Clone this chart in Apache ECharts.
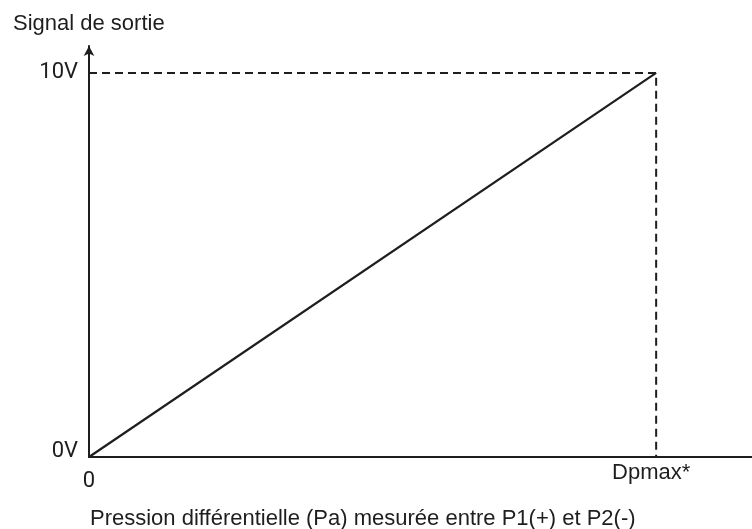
<!DOCTYPE html>
<html>
<head>
<meta charset="utf-8">
<script src="https://cdn.jsdelivr.net/npm/echarts@6/dist/echarts.min.js"></script>
<style>html,body{margin:0;padding:0;background:#fff}#c{width:752px;height:529px}</style>
</head>
<body>
<div id="c"></div>
<script>
// ---- data ----
const yAxisTitle = 'Signal de sortie';
const xAxisTitle = 'Pression différentielle (Pa) mesurée entre P1(+) et P2(-)';
const signalLine = [[0, 0], [1, 10]];          // linear output: 0V at 0, 10V at Dpmax
const guideLine = [[0, 10], [1, 10], [1, 0]];   // dashed reference lines
const yTickLabels = { 0: '0V', 10: '10V' };
const xTickLabels = { 0: '0', 1: 'Dpmax*' };
const xMax = 1.169;
const yMax = 10.7;

const ink = '#1e1e1e';
const chart = echarts.init(document.getElementById('c'), null, { renderer: 'canvas' });
chart.setOption({
  animation: false,
  title: [
    { text: yAxisTitle, left: 8, top: 8,
      textStyle: { fontFamily: 'Liberation Sans', fontSize: 22, fontWeight: 'normal', color: ink } },
    { text: xAxisTitle, left: 85, top: 503,
      textStyle: { fontFamily: 'Liberation Sans', fontSize: 22, fontWeight: 'normal', color: ink } }
  ],
  grid: { left: 89, right: 0, top: 46, bottom: 72 },
  xAxis: {
    type: 'value', min: 0, max: xMax, interval: 1,
    axisLine: { lineStyle: { color: ink, width: 2 } },
    axisTick: { show: false },
    splitLine: { show: false },
    axisLabel: {
      margin: 13, showMaxLabel: false,
      formatter: v => v === 0 ? '{a|' + xTickLabels[0] + '}' : (v === 1 ? '{b|' + xTickLabels[1] + '}' : ''),
      rich: {
        a: { fontFamily: 'Roboto', fontSize: 22, color: ink },
        b: { fontFamily: 'Liberation Sans', fontSize: 22, color: ink, padding: [-8, 10, 0, 0] }
      }
    }
  },
  yAxis: {
    type: 'value', min: 0, max: yMax, interval: 10,
    axisLine: { show: true, symbol: ['none', 'arrow'], symbolSize: [8, 10], lineStyle: { color: ink, width: 2 } },
    axisTick: { show: false },
    splitLine: { show: false },
    axisLabel: {
      margin: 11, showMaxLabel: false,
      formatter: v => v === 0 ? '{z|' + yTickLabels[0] + '}' : (v === 10 ? '{t|' + yTickLabels[10] + '}' : ''),
      rich: {
        z: { fontFamily: 'Roboto', fontSize: 22, color: ink, padding: [0, 0, 12, 0] },
        t: { fontFamily: 'Roboto', fontSize: 22, color: ink }
      }
    }
  },
  series: [
    { type: 'line', data: signalLine, showSymbol: false, lineStyle: { color: ink, width: 2.2 } },
    { type: 'line', data: guideLine, showSymbol: false, lineStyle: { color: ink, width: 2, type: [8, 5] } }
  ]
});
</script>
</body>
</html>
